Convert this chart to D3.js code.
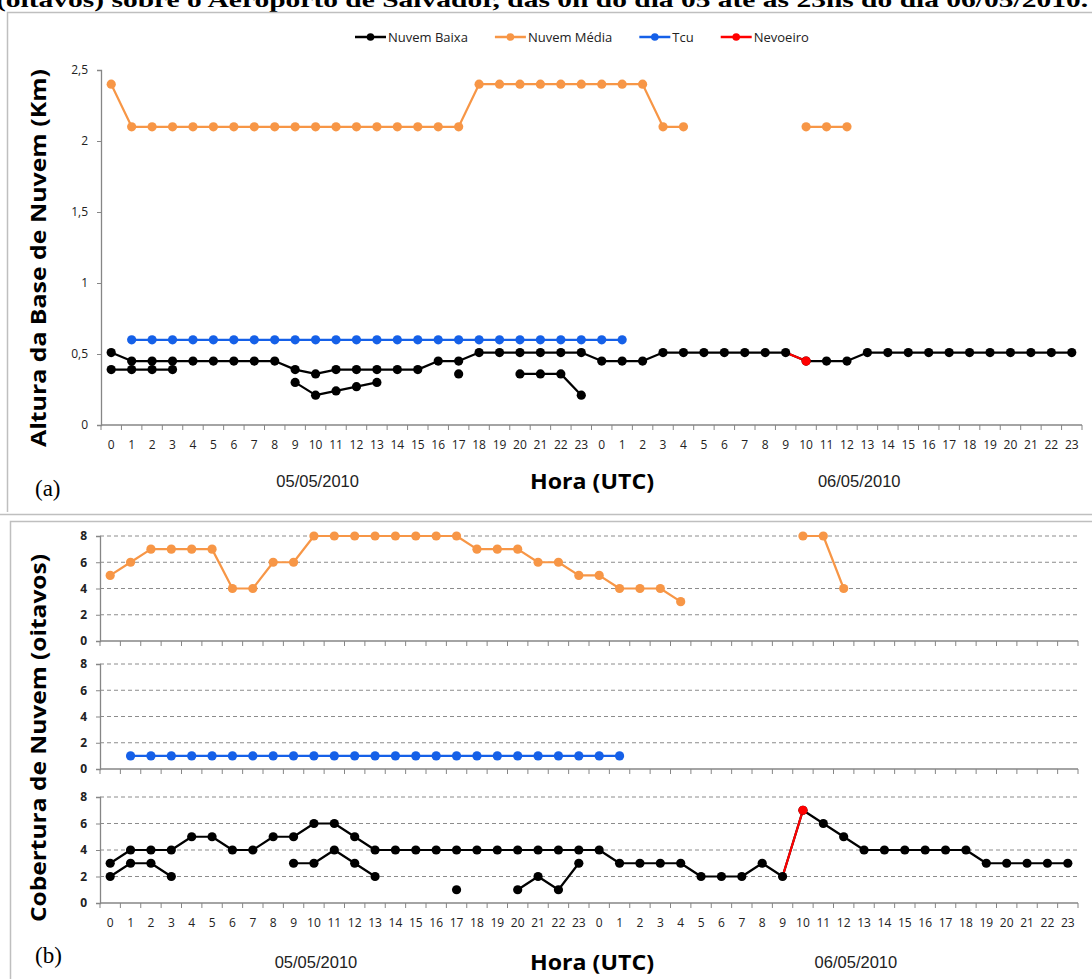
<!DOCTYPE html>
<html>
<head>
<meta charset="utf-8">
<script src="https://cdn.jsdelivr.net/npm/d3@7"></script>
<style>
  body { margin: 0; background: #fff; }
  svg { display: block; }
</style>
</head>
<body>
<script>
// Hour-of-day categories for 05/05/2010 and 06/05/2010
const hours = ["0","1","2","3","4","5","6","7","8","9","10","11","12","13","14","15","16","17","18","19","20","21","22","23",
               "0","1","2","3","4","5","6","7","8","9","10","11","12","13","14","15","16","17","18","19","20","21","22","23"];
const days = ["05/05/2010", "06/05/2010"];

// (a) cloud base height, km
const heightTicks = [0, 0.5, 1, 1.5, 2, 2.5];
const heightTickLabels = ["0", "0,5", "1", "1,5", "2", "2,5"];
const aBaixa1 = [0.51,0.45,0.45,0.45,0.45,0.45,0.45,0.45,0.45,0.39,0.36,0.39,0.39,0.39,0.39,0.39,0.45,0.45,0.51,0.51,0.51,0.51,0.51,0.51,
                 0.45,0.45,0.45,0.51,0.51,0.51,0.51,0.51,0.51,0.51,0.45,0.45,0.45,0.51,0.51,0.51,0.51,0.51,0.51,0.51,0.51,0.51,0.51,0.51];
const aBaixa2 = [0.39,0.39,0.39,0.39,null,null,null,null,null,0.30,0.21,0.24,0.27,0.30,null,null,null,0.36,null,null,0.36,0.36,0.36,0.21,
                 null,null,null,null,null,null,null,null,null,null,null,null,null,null,null,null,null,null,null,null,null,null,null,null];
const aMedia  = [2.4,2.1,2.1,2.1,2.1,2.1,2.1,2.1,2.1,2.1,2.1,2.1,2.1,2.1,2.1,2.1,2.1,2.1,2.4,2.4,2.4,2.4,2.4,2.4,
                 2.4,2.4,2.4,2.1,2.1,null,null,null,null,null,2.1,2.1,2.1,null,null,null,null,null,null,null,null,null,null,null];
const aTcu    = [null,0.6,0.6,0.6,0.6,0.6,0.6,0.6,0.6,0.6,0.6,0.6,0.6,0.6,0.6,0.6,0.6,0.6,0.6,0.6,0.6,0.6,0.6,0.6,
                 0.6,0.6,null,null,null,null,null,null,null,null,null,null,null,null,null,null,null,null,null,null,null,null,null,null];
const aNevoeiro = [null,null,null,null,null,null,null,null,null,null,null,null,null,null,null,null,null,null,null,null,null,null,null,null,
                   null,null,null,null,null,null,null,null,null,null,0.45,null,null,null,null,null,null,null,null,null,null,null,null,null];

// (b) cloud cover, oktas
const coverTicks = [0, 2, 4, 6, 8];
const coverGrid = [2, 4, 6, 8];
const bMedia  = [5,6,7,7,7,7,4,4,6,6,8,8,8,8,8,8,8,8,7,7,7,6,6,5,
                 5,4,4,4,3,null,null,null,null,null,8,8,4,null,null,null,null,null,null,null,null,null,null,null];
const bTcu    = [null,1,1,1,1,1,1,1,1,1,1,1,1,1,1,1,1,1,1,1,1,1,1,1,
                 1,1,null,null,null,null,null,null,null,null,null,null,null,null,null,null,null,null,null,null,null,null,null,null];
const bBaixa1 = [3,4,4,4,5,5,4,4,5,5,6,6,5,4,4,4,4,4,4,4,4,4,4,4,
                 4,3,3,3,3,2,2,2,3,2,7,6,5,4,4,4,4,4,4,3,3,3,3,3];
const bBaixa2 = [2,3,3,2,null,null,null,null,null,3,3,4,3,2,null,null,null,1,null,null,1,2,1,3,
                 null,null,null,null,null,null,null,null,null,null,null,null,null,null,null,null,null,null,null,null,null,null,null,null];
const bNevoeiro = [null,null,null,null,null,null,null,null,null,null,null,null,null,null,null,null,null,null,null,null,null,null,null,null,
                   null,null,null,null,null,null,null,null,null,null,7,null,null,null,null,null,null,null,null,null,null,null,null,null];

const legendNames = ["Nuvem Baixa", "Nuvem Média", "Tcu", "Nevoeiro"];
const COLORS = { baixa: "#000000", media: "#F79646", tcu: "#1560E8", nevoeiro: "#FF0000" };
const legendColors = [COLORS.baixa, COLORS.media, COLORS.tcu, COLORS.nevoeiro];

const W = 1092, H = 979;
const TICK_FONT = "'Open Sans', 'Noto Sans', sans-serif";
const AXIS_GRAY = "#868686";
const FRAME_GRAY = "#BFBFBF";
// date captions sit under these category positions (fractional band index)
const DAY_LABEL_POS = [10.1, 36.6];

const svg = d3.select("body").append("svg")
  .attr("width", W).attr("height", H)
  .attr("viewBox", `0 0 ${W} ${H}`);
svg.append("rect").attr("width", W).attr("height", H).attr("fill", "#fff");

// caption line running above the figure
svg.append("text")
  .attr("x", -4).attr("y", 7)
  .attr("font-family", "'Liberation Serif', 'Times New Roman', serif")
  .attr("font-weight", "bold").attr("font-size", 21)
  .attr("textLength", 1092).attr("lengthAdjust", "spacingAndGlyphs")
  .attr("fill", "#000")
  .text("(oitavos) sobre o Aeroporto de Salvador, das 0h do dia 05 até às 23hs do dia 06/05/2010.");

// panel frames
const frames = svg.append("g").attr("fill", "none").attr("stroke", FRAME_GRAY).attr("stroke-width", 1.5);
frames.append("path").attr("d", "M1092,12.5 H7.5 V512");
frames.append("path").attr("d", "M0,514.5 H1092");
frames.append("path").attr("d", "M1092,521.5 H10.5 V979");

// ---------- helpers ----------
function center(x, i) { return x(i) + x.bandwidth() / 2; }

function drawXAxis(g, x, y0, labels) {
  const ax = g.append("g");
  const [r0, r1] = x.range();
  ax.append("line").attr("x1", r0).attr("x2", r1).attr("y1", y0).attr("y2", y0)
    .attr("stroke", AXIS_GRAY).attr("stroke-width", 1.3);
  const bounds = x.domain().map(i => x(i)).concat([r1]);
  ax.selectAll("line.tk").data(bounds).join("line").attr("class", "tk")
    .attr("x1", d => d).attr("x2", d => d).attr("y1", y0).attr("y2", y0 + 5)
    .attr("stroke", AXIS_GRAY).attr("stroke-width", 1);
  if (labels) {
    ax.selectAll("text").data(x.domain()).join("text")
      .attr("x", i => center(x, i)).attr("y", y0 + 24)
      .attr("text-anchor", "middle")
      .attr("font-family", TICK_FONT).attr("font-size", 12).attr("fill", "#222")
      .text(i => labels[i]);
  }
}

function drawYAxis(g, x0, y, values, labels, bold) {
  const ax = g.append("g")
    .attr("transform", `translate(${x0},0)`)
    .call(d3.axisLeft(y).tickValues(values).tickSize(4).tickPadding(9)
      .tickFormat((d, k) => labels[k]));
  ax.select(".domain").attr("stroke", AXIS_GRAY).attr("stroke-width", 1.3);
  ax.selectAll(".tick line").attr("stroke", AXIS_GRAY);
  ax.selectAll(".tick text").attr("font-family", TICK_FONT).attr("font-size", 12)
    .attr("font-weight", bold ? "bold" : "normal").attr("fill", "#222");
}

function drawLine(g, x, y, data, color) {
  const line = d3.line()
    .defined(d => d != null)
    .x((d, i) => center(x, i))
    .y(d => y(d));
  g.append("path").datum(data).attr("d", line)
    .attr("fill", "none").attr("stroke", color).attr("stroke-width", 2.2)
    .attr("stroke-linejoin", "round");
}

function drawMarkers(g, x, y, data, color) {
  g.append("g").selectAll("circle")
    .data(data.map((v, i) => ({ v, i })).filter(d => d.v != null))
    .join("circle")
    .attr("cx", d => center(x, d.i)).attr("cy", d => y(d.v)).attr("r", 4.6)
    .attr("fill", color);
}

// fog segment: joins the previous low-cloud observation to the fog observation
function drawFogSegment(g, x, y, fog, low) {
  fog.forEach((v, i) => {
    if (v == null || i === 0 || low[i - 1] == null) return;
    g.append("path")
      .attr("d", d3.line()([[center(x, i - 1), y(low[i - 1])], [center(x, i), y(v)]]))
      .attr("stroke", COLORS.nevoeiro).attr("stroke-width", 2.2).attr("fill", "none");
  });
}

function drawSeriesSet(g, x, y, series, fog, fogBase) {
  series.forEach(s => drawLine(g, x, y, s.data, s.color));
  drawFogSegment(g, x, y, fog, fogBase);
  series.forEach(s => drawMarkers(g, x, y, s.data, s.color));
  drawMarkers(g, x, y, fog, COLORS.nevoeiro);
}

function dateLabels(g, x, yPos) {
  const step = x.step(), x0 = x.range()[0] + x.bandwidth() / 2;
  days.forEach((d, k) => {
    g.append("text").attr("x", x0 + DAY_LABEL_POS[k] * step).attr("y", yPos).attr("text-anchor", "middle")
      .attr("font-family", "'Liberation Sans', Arial, sans-serif").attr("font-size", 16.5)
      .attr("fill", "#222").text(d);
  });
}

function boldTitle(g, txt, xPos, yPos, rotate, len, size) {
  const t = g.append("text")
    .attr("font-family", "'Open Sans', 'Noto Sans', sans-serif")
    .attr("font-weight", "bold").attr("font-size", size).attr("fill", "#000")
    .attr("text-anchor", "middle")
    .attr("textLength", len).attr("lengthAdjust", "spacingAndGlyphs")
    .text(txt);
  if (rotate) t.attr("transform", `translate(${xPos},${yPos}) rotate(-90)`);
  else t.attr("x", xPos).attr("y", yPos);
}

// ---------- legend ----------
const legend = svg.append("g").attr("transform", "translate(355,37)");
let lx = 0;
legendNames.forEach((name, k) => {
  const item = legend.append("g").attr("transform", `translate(${lx},0)`);
  item.append("line").attr("x1", 0).attr("x2", 31).attr("y1", 0).attr("y2", 0)
    .attr("stroke", legendColors[k]).attr("stroke-width", 2.5);
  item.append("circle").attr("cx", 15.5).attr("cy", 0).attr("r", 3.8).attr("fill", legendColors[k]);
  const t = item.append("text").attr("x", 33).attr("y", 4.5)
    .attr("font-family", TICK_FONT).attr("font-size", 13).attr("fill", "#222").text(name);
  lx += 33 + t.node().getComputedTextLength() + 27;
});

// ---------- (a) cloud base height ----------
const gA = svg.append("g");
const xA = d3.scaleBand().domain(d3.range(hours.length)).range([101, 1082]);
const yA = d3.scaleLinear().domain([0, 2.5]).range([425, 70]);
drawYAxis(gA, 101, yA, heightTicks, heightTickLabels, false);
drawXAxis(gA, xA, 425, hours);
drawSeriesSet(gA, xA, yA, [
  { data: aBaixa1, color: COLORS.baixa },
  { data: aBaixa2, color: COLORS.baixa },
  { data: aMedia, color: COLORS.media },
  { data: aTcu, color: COLORS.tcu }
], aNevoeiro, aBaixa1);
boldTitle(gA, "Altura da Base de Nuvem (Km)", 46, 258, true, 378, 21);
boldTitle(gA, "Hora (UTC)", 592, 489, false, 124, 22);
dateLabels(gA, xA, 487);
gA.append("text").attr("x", 35).attr("y", 496)
  .attr("font-family", "'Liberation Serif', 'Times New Roman', serif").attr("font-size", 23)
  .attr("fill", "#000").text("(a)");

// ---------- (b) cloud cover, three stacked strips ----------
const gB = svg.append("g");
const xB = d3.scaleBand().domain(d3.range(hours.length)).range([100, 1078]);
const strips = [
  { y: d3.scaleLinear().domain([0, 8]).range([641, 536]), series: [{ data: bMedia, color: COLORS.media }], labels: false },
  { y: d3.scaleLinear().domain([0, 8]).range([769, 664]), series: [{ data: bTcu, color: COLORS.tcu }], labels: false },
  { y: d3.scaleLinear().domain([0, 8]).range([903, 797]), series: [
      { data: bBaixa1, color: COLORS.baixa }, { data: bBaixa2, color: COLORS.baixa }], labels: true, fog: true }
];
const emptyFog = bNevoeiro.map(() => null);
strips.forEach(s => {
  const g = gB.append("g");
  g.selectAll("line.grid").data(coverGrid).join("line").attr("class", "grid")
    .attr("x1", 100).attr("x2", 1078).attr("y1", d => s.y(d)).attr("y2", d => s.y(d))
    .attr("stroke", "#8C8C8C").attr("stroke-width", 1).attr("stroke-dasharray", "4,3");
  drawYAxis(g, 100, s.y, coverTicks, coverTicks.map(String), true);
  drawXAxis(g, xB, s.y(0), s.labels ? hours : null);
  drawSeriesSet(g, xB, s.y, s.series, s.fog ? bNevoeiro : emptyFog, bBaixa1);
});
boldTitle(gB, "Cobertura de Nuvem (oitavos)", 46, 738, true, 368, 21);
boldTitle(gB, "Hora (UTC)", 592, 970, false, 124, 22);
dateLabels(gB, xB, 968);
gB.append("text").attr("x", 35).attr("y", 963)
  .attr("font-family", "'Liberation Serif', 'Times New Roman', serif").attr("font-size", 23)
  .attr("fill", "#000").text("(b)");
</script>
</body>
</html>
